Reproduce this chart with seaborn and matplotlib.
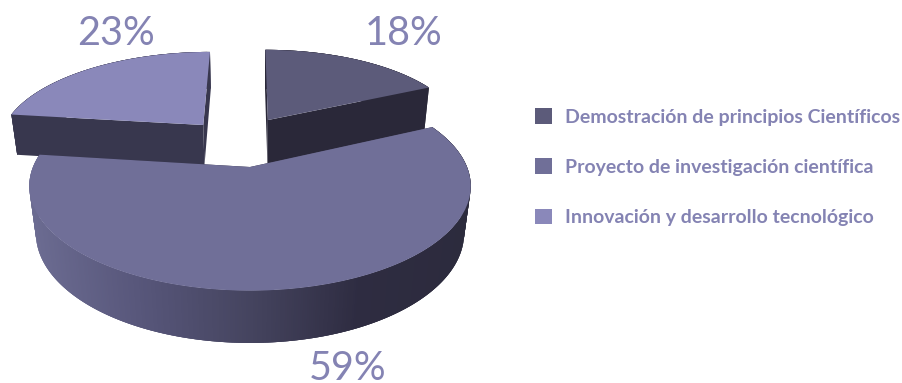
import numpy as np
import matplotlib
matplotlib.use("Agg")
import matplotlib.pyplot as plt
from matplotlib.patches import Polygon
from matplotlib.transforms import Transform
import seaborn as sns

# Chart data
categories = ["Demostración de principios Científicos",
              "Proyecto de investigación científica",
              "Innovación y desarrollo tecnológico"]
shares = [18, 59, 23]

# Appearance
top_colors = ["#5c5b7a", "#706f98", "#8a88ba"]
wall_colors = ["#2a2839", "#2d2b3f", "#38374e"]
text_color = "#8483b3"
rim_stops = ["#2c2b3d", "#2e2c41", "#45445f", "#57567a", "#6c6c92"]

# Disc layout: offset of each slice on the disc, its radius and its wall height
slice_offsets = [(0.09, 0.508), (0.0, 0.0), (-0.233, 0.45)]
slice_radii = [0.965, 1.0, 0.99]
slice_heights = [0.99, 1.0, 0.92]
draw_order = [0, 2, 1]

# Camera: vanishing strength across the disc and down its height
ORIGIN = (250.0, 167.0)
SCALE_X, SCALE_Y, SCALE_H = 217.0, 101.0, 48.0
TILT, SINK = 0.183, 0.03


def project(u, v, h=0.0):
    s = 1.0 / (1.0 + TILT * v + SINK * h)
    return ORIGIN[0] + SCALE_X * u * s, ORIGIN[1] - SCALE_Y * v * s + SCALE_H * h * s


class DiscProjection(Transform):
    input_dims = output_dims = 2

    def transform_non_affine(self, values):
        xy = np.asarray(values, dtype=float)
        x, y = project(xy[:, 0], xy[:, 1])
        return np.column_stack([x, y])


sns.set_theme(style="white")
plt.rcParams["font.family"] = ["Lato", "DejaVu Sans"]

fig = plt.figure(figsize=(9.03, 3.83), dpi=100, facecolor="white")
ax = fig.add_axes([0, 0, 1, 1])

wedges, _ = ax.pie(shares, colors=top_colors, startangle=90, counterclock=False)
ax.set_aspect("auto")
ax.set_xlim(0, 903)
ax.set_ylim(383, 0)
ax.set_axis_off()

rim_palette = sns.blend_palette(rim_stops, n_colors=256)


def add_quad(p0, p1, h, color, zorder):
    u = np.array([p0[0], p1[0], p1[0], p0[0]])
    v = np.array([p0[1], p1[1], p1[1], p0[1]])
    hh = np.array([0, 0, h, h])
    x, y = project(u, v, hh)
    ax.add_patch(Polygon(np.column_stack([x, y]), closed=True, facecolor=color,
                         edgecolor="none", linewidth=0, zorder=zorder))


projection = DiscProjection()
for rank, i in enumerate(draw_order):
    wedge = wedges[i]
    cu, cv = slice_offsets[i]
    r = slice_radii[i]
    h = slice_heights[i]
    wedge.set_center((cu, cv))
    wedge.set_radius(r)
    wedge.set_transform(projection + ax.transData)
    wedge.set_linewidth(0)
    base = 10 * (rank + 1)
    wedge.set_zorder(base + 5)

    # Outer wall follows the arc; each strip overlaps the next so no seam shows
    angles = np.radians(np.linspace(wedge.theta1, wedge.theta2,
                                    int(wedge.theta2 - wedge.theta1) * 2 + 2))
    us = cu + r * np.cos(angles)
    vs = cv + r * np.sin(angles)
    for k in range(len(angles) - 1):
        if i == 1:
            screen = (project(us[k], vs[k])[0] - 30.0) / 441.0
            color = rim_palette[int(np.clip(1.0 - screen, 0, 1) * 255)]
        else:
            color = wall_colors[i]
        far = min(k + 3, len(angles) - 1)
        add_quad((us[k], vs[k]), (us[far], vs[far]), h, color, base)

    # Two cut faces between the centre and the arc ends
    add_quad((cu, cv), (us[0], vs[0]), h, wall_colors[i], base + 1)
    add_quad((cu, cv), (us[-1], vs[-1]), h, wall_colors[i], base + 1)

# Percentage labels, set on their baselines
label_spots = [(404, 45), (348, 380), (116, 45)]
for share, (x, y) in zip(shares, label_spots):
    ax.text(x, y, f"{share}%", color=text_color, fontsize=28.5, family="Lato",
            ha="center", va="baseline", zorder=50)

legend = ax.legend(wedges, categories, loc="upper left",
                   bbox_to_anchor=(535 / 903, 1 - 108 / 383), frameon=False,
                   prop={"family": "Lato", "weight": "bold", "size": 14},
                   labelcolor=text_color, handlelength=0.875, handleheight=0.875,
                   handletextpad=0.67, labelspacing=1.68, borderpad=0, borderaxespad=0)
legend.set_zorder(60)

fig.savefig("out.png", dpi=100, facecolor="white")
